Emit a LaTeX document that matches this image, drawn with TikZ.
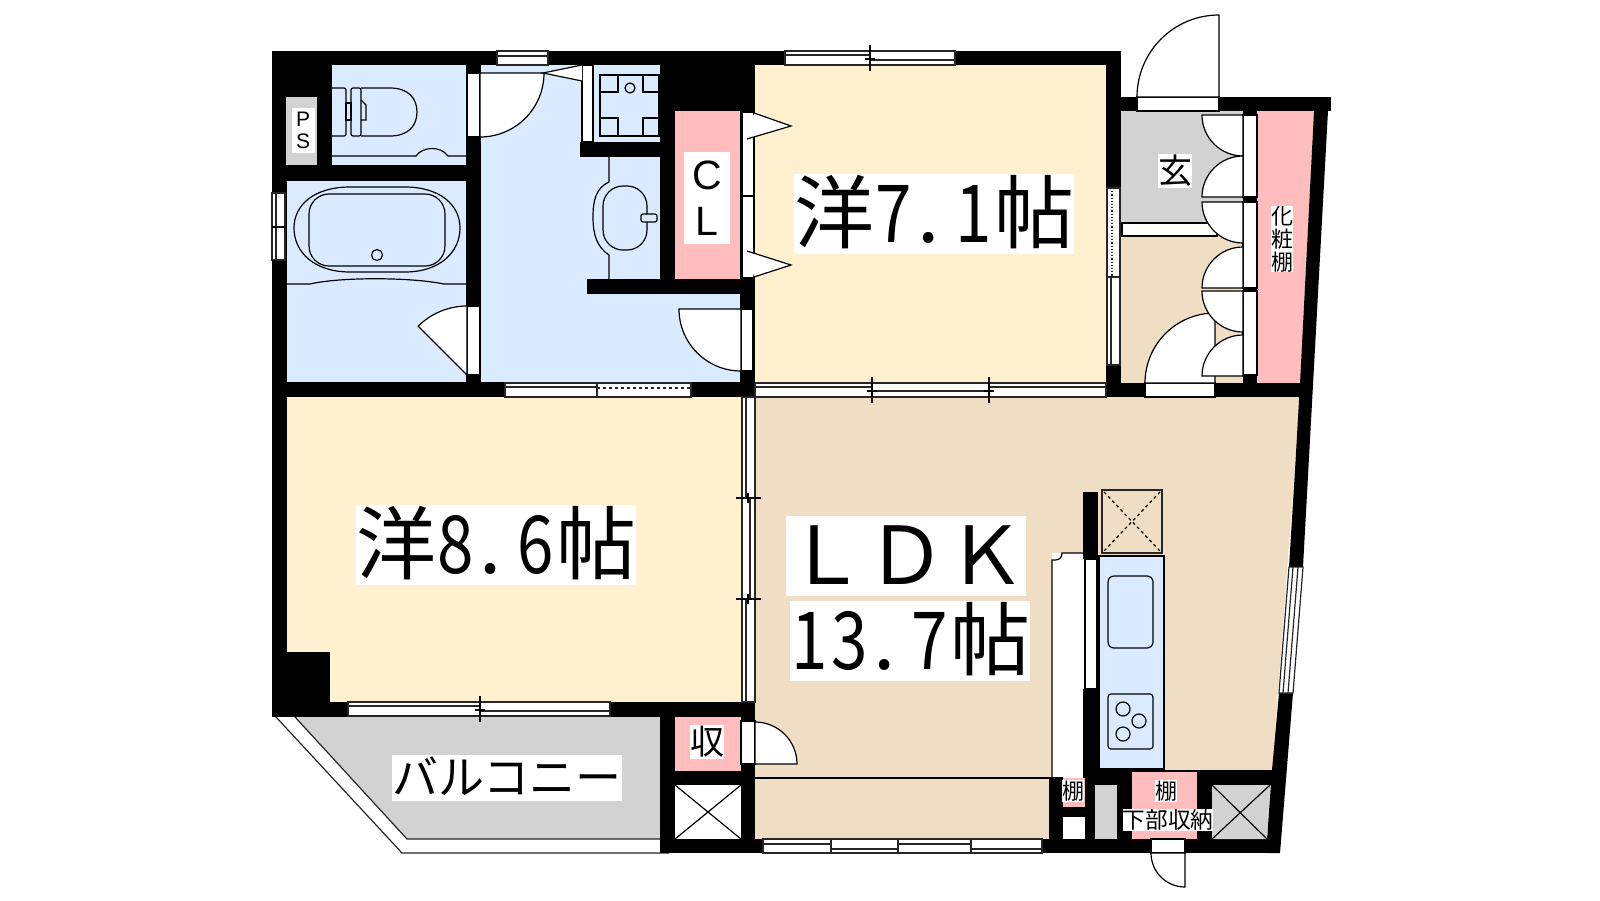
\documentclass[tikz,border=0pt]{standalone}
\usepackage{graphicx}
\usepackage{fontspec}
\setmainfont{Noto Sans CJK JP}
\newfontfamily\latinfont{Liberation Sans}
\usetikzlibrary{positioning}
\definecolor{wetblue}{HTML}{DAEBFF}
\definecolor{roomyellow}{HTML}{FFF0D0}
\definecolor{ldkbeige}{HTML}{EFDEC4}
\definecolor{shelfpink}{HTML}{FFBDBD}
\definecolor{floorgray}{HTML}{D2D2D2}
\tikzset{
x=1pt, y=-1pt,
wall/.style={fill=black},
fineline/.style={draw=black, line width=1.2pt},
winline/.style={draw=black!85, line width=1.2pt},
doorleaf/.style={fineline, fill=white},
roomlabel/.style={fill=white, inner sep=0pt, text height=68pt, text depth=12pt, font=\fontsize{80}{80}\selectfont},
tagbox/.style={fill=white, inner sep=0pt, align=center},
}
\newcommand{\dg}[1]{\makebox[40pt]{\scalebox{.82}[1]{#1}}}
\newcommand{\dt}{\makebox[40pt][l]{\hspace{3pt}.}}
% door leaf: hinge, radius, two angles
\newcommand{\swing}[5]{\draw[doorleaf] (#1,#2) -- ++(#4:#3) arc (#4:#5:#3) -- cycle;}
% window panes
\newcommand{\hpane}[4]{\draw[winline, fill=white] (#1,#2) rectangle (#3,#2+14); \draw[winline] (#1,#2+#4) -- (#3,#2+#4);}
\newcommand{\vpane}[4]{\draw[winline, fill=white] (#1,#2) rectangle (#1+13,#3); \draw[winline] (#1+#4,#2) -- (#1+#4,#3);}
\newcommand{\htick}[2]{\draw[fineline] (#1,#2-6) -- (#1,#2+20); \draw[fineline] (#1-5,#2+8) -- (#1+5,#2+8);}
\newcommand{\vtick}[2]{\draw[fineline] (#1-6,#2) -- (#1+19,#2); \draw[fineline] (#1+6,#2-5) -- (#1+6,#2+5);}
\begin{document}
\begin{tikzpicture}
    \useasboundingbox (0,0) rectangle (1600,900);

    % Rooms
    \fill[wetblue] (332,65) rectangle (466,165);
    \fill[wetblue] (287,181) rectangle (466,382);
    \fill[wetblue] (481,65) rectangle (741,382);
    \fill[roomyellow] (755,65) rectangle (1106,383);
    \fill[roomyellow] (286,397) rectangle (741,702);
    \fill[ldkbeige] (755,397) -- (1300,397) -- (1267,839) -- (755,839) -- cycle;
    \fill[floorgray] (1121,111) rectangle (1243,223);
    \fill[ldkbeige] (1121,223) rectangle (1243,383);
    \fill[floorgray] (295,717) -- (407,839) -- (660,839) -- (660,717) -- cycle;
    \fill[shelfpink] (1257,111) -- (1314,111) -- (1300,383) -- (1257,383) -- cycle;

    % Balcony edge
    \draw[winline] (295,717) -- (407,839) -- (660,839);
    \draw[winline] (276,717) -- (402,853) -- (669,853);

    % Fridge space
    \fill[white] (1052,553) rectangle (1084,778);
    \draw[fineline] (1083,553) -- (1062,553) .. controls (1062,558) and (1059,560) .. (1055,560) -- (1052,560) -- (1052,778);
    \draw[fineline] (755,778) -- (1052,778);

    % Walls
    \fill[wall] (272,51) rectangle (1121,65);
    \fill[wall] (272,51) rectangle (332,165);
    \fill[wall] (272,51) rectangle (287,717);
    \fill[wall] (272,165) rectangle (481,181);
    \fill[wall] (466,65) rectangle (481,382);
    \fill[wall] (272,382) rectangle (755,397);
    \fill[wall] (580,142) rectangle (660,157);
    \fill[wall] (660,51) rectangle (755,111);
    \fill[wall] (660,111) rectangle (675,294);
    \fill[wall] (587,279) rectangle (755,294);
    \fill[wall] (740,111) rectangle (755,397);
    \fill[wall] (286,652) rectangle (330,717);
    \fill[wall] (272,702) rectangle (755,717);
    \fill[wall] (741,702) rectangle (755,853);
    \fill[wall] (660,717) rectangle (675,853);
    \fill[wall] (675,771) rectangle (741,785);
    \fill[wall] (660,839) rectangle (1280,853);
    \fill[wall] (1106,51) rectangle (1121,397);
    \fill[wall] (1106,383) rectangle (1300,397);
    \fill[wall] (1121,97) rectangle (1331,111);
    \fill[wall] (1243,111) rectangle (1257,115);
    \fill[wall] (1243,197) rectangle (1257,202);
    \fill[wall] (1243,288) rectangle (1257,291);
    \fill[wall] (1243,375) rectangle (1257,383);
    \fill[wall] (1083,492) rectangle (1098,559);
    \fill[wall] (1083,689) rectangle (1098,785);
    \fill[wall] (1083,770) rectangle (1285,785);
    \fill[wall] (1049,777) rectangle (1063,853);
    \fill[wall] (1063,807) rectangle (1095,817);
    \fill[wall] (1085,770) rectangle (1095,853);
    \fill[wall] (1117,785) rectangle (1132,853);
    \fill[wall] (1197,785) rectangle (1212,853);
    \fill[wall] (1314,111) -- (1328,111) -- (1303,567) -- (1293,693) -- (1280,853) -- (1267,853)
        -- (1267,839) -- (1272,770) -- (1279,693) -- (1289,567) -- (1295,470) -- (1300,383) -- cycle;

    % Closets and pipe spaces
    \fill[floorgray] (286,97) rectangle (317,165);
    \fill[shelfpink] (675,111) rectangle (740,279);
    \fill[shelfpink] (675,717) rectangle (741,771);
    \fill[white] (675,785) rectangle (741,839);
    \draw[fineline] (675,785) -- (741,839) (741,785) -- (675,839);
    \fill[shelfpink] (1063,778) rectangle (1085,807);
    \fill[white] (1063,817) rectangle (1085,839);
    \fill[floorgray] (1095,785) rectangle (1117,839);
    \fill[shelfpink] (1132,772) rectangle (1197,839);
    \fill[floorgray] (1212,785) -- (1270,785) -- (1267,839) -- (1212,839) -- cycle;
    \draw[fineline] (1212,785) -- (1267,839) (1270,785) -- (1212,839);

    % Windows
    \hpane{497}{51}{548}{5}
    \hpane{785}{51}{870}{4}
    \hpane{870}{51}{955}{9}
    \htick{870}{51}
    \hpane{505}{383}{597}{4}
    \draw[winline, fill=white] (597,383) rectangle (691,397);
    \draw[winline, dashed] (597,388) -- (691,388);
    \hpane{755}{383}{872}{4}
    \hpane{872}{383}{989}{8}
    \hpane{989}{383}{1106}{4}
    \htick{872}{383}
    \htick{989}{383}
    \hpane{348}{702}{480}{4}
    \hpane{480}{702}{610}{9}
    \htick{480}{702}
    \hpane{763}{839}{831}{5}
    \hpane{831}{839}{898}{10}
    \hpane{898}{839}{971}{5}
    \hpane{971}{839}{1042}{10}
    \vpane{742}{397}{498}{4}
    \vpane{742}{498}{599}{8}
    \vpane{742}{599}{702}{4}
    \vtick{742}{498}
    \vtick{742}{599}
    \vpane{272}{193}{260}{4}
    \draw[fineline] (272,227) -- (285,227);
    \draw[winline, fill=white] (1107,188) rectangle (1120,277);
    \draw[winline, dotted, line width=2pt] (1112,188) -- (1112,277);
    \vpane{1107}{277}{365}{4}
    \draw[winline, fill=white] (1303,567) -- (1293,693) -- (1279,693) -- (1289,567) -- cycle;
    \draw[winline] (1293,567) -- (1283,693) (1298,567) -- (1288,693);

    % Door frames
    \draw[fineline, fill=white] (467,73) rectangle (480,137);
    \draw[fineline, fill=white] (467,306) rectangle (480,375);
    \draw[fineline, fill=white] (742,112) rectangle (754,196);
    \draw[fineline, fill=white] (742,196) rectangle (754,278);
    \draw[fineline, fill=white] (741,309) rectangle (753,371);
    \draw[fineline, fill=white] (741,721) rectangle (755,764);
    \draw[fineline, fill=white] (1137,97) rectangle (1219,111);
    \draw[fineline, fill=white] (1145,383) rectangle (1215,397);
    \draw[fineline, fill=white] (1151,839) rectangle (1185,853);
    \draw[fineline, fill=white] (582,65) rectangle (593,142);
    \draw[fineline, fill=white] (1122,223) rectangle (1217,236);
    \draw[fineline, fill=white] (1243,115) rectangle (1257,197);
    \draw[fineline, fill=white] (1243,202) rectangle (1257,288);
    \draw[fineline, fill=white] (1243,291) rectangle (1257,375);

    % Door leaves
    \swing{480}{73}{64}{0}{90}
    \swing{467}{375}{69}{225}{270}
    \swing{741}{309}{62}{180}{90}
    \swing{1219}{97}{82}{180}{270}
    \swing{1215}{383}{70}{180}{270}
    \swing{755}{764}{42}{360}{270}
    \swing{1185}{853}{34}{180}{90}
    \draw[doorleaf] (754,113) -- (791,126) -- (747,139);
    \draw[doorleaf] (754,277) -- (791,265) -- (747,251);
    \draw[doorleaf] (582,65) -- (543,73) -- (582,81);

    % Closet doors
    \swing{1243}{115}{41}{180}{90}
    \swing{1243}{197}{41}{180}{270}
    \swing{1243}{202}{41}{180}{90}
    \swing{1243}{288}{41}{180}{270}
    \swing{1243}{291}{41}{180}{90}
    \swing{1243}{376}{41}{180}{270}

    % Toilet
    \draw[fineline, rounded corners=2pt] (332,88) -- (346,88) -- (346,136) -- (332,136);
    \draw[fineline] (346,103) rectangle (351,120);
    \draw[fineline, rounded corners=2pt] (351,88) rectangle (361,136);
    \draw[fineline] (361,88) -- (390,88) .. controls (408,88) and (417,98) .. (417,112) .. controls (417,126) and (408,136) .. (390,136) -- (361,136);
    \draw[fineline] (361,100) -- (366,105) -- (366,120) -- (361,120);
    \draw[fineline] (332,156) -- (416,156) .. controls (422,147) and (440,145) .. (448,156) -- (466,156);

    % Washer pan
    \draw[fineline] (600,75) rectangle (659,136);
    \draw[fineline] (600,75) rectangle (618,92);
    \draw[fineline] (643,75) rectangle (659,92);
    \draw[fineline] (600,118) rectangle (618,136);
    \draw[fineline] (643,118) rectangle (659,136);
    \draw[fineline] (630,88) circle (5);

    % Bath
    \draw[fineline] (350,187) -- (405,187) .. controls (440,187) and (460,205) .. (460,228) .. controls (460,252) and (440,272) .. (405,272)
        -- (350,272) .. controls (314,272) and (294,252) .. (294,228) .. controls (294,205) and (314,187) .. (350,187) -- cycle;
    \draw[fineline, rounded corners=20pt] (309,194) rectangle (445,266);
    \draw[fineline] (377,255) circle (5.5);
    \draw[fineline] (287,284) -- (310,284) .. controls (340,277) and (410,277) .. (444,284) -- (466,284);

    % Wash basin
    \draw[fineline] (609,157) -- (609,182) .. controls (596,188) and (593,200) .. (593,217) .. controls (593,235) and (597,247) .. (609,255) -- (609,279);
    \draw[fineline, rounded corners=20pt] (603,186) rectangle (647,250);
    \draw[fineline, fill=wetblue, rounded corners=2pt] (641,214) rectangle (657,222);

    % Kitchen
    \draw[fineline, fill=wetblue] (1099,556) rectangle (1164,769);
    \draw[fineline, rounded corners=6pt] (1108,576) rectangle (1153,648);
    \draw[fineline, rounded corners=3pt] (1108,694) rectangle (1153,749);
    \draw[fineline] (1123,709) circle (7);
    \draw[fineline] (1139,721) circle (7);
    \draw[fineline] (1123,734) circle (7);
    \draw[fineline, fill=white] (1085,559) rectangle (1097,689);
    \draw[winline, line width=1.6pt] (1102,490) rectangle (1162,553);
    \draw[fineline, dashed] (1104,492) -- (1160,551) (1160,492) -- (1104,551);

    % Labels
    \node[roomlabel] (room71) at (934,214) {洋\dg{7}\dt\dg{1}帖};
    \node[roomlabel] (room86) at (496,545) {洋\dg{8}\dt\dg{6}帖};
    \node[roomlabel] (ldkname) at (906,556) {ＬＤＫ};
    \node[roomlabel] (ldksize) at (910,641) {\dg{1}\dg{3}\dt\dg{7}帖};
    \node[tagbox, font=\fontsize{46}{46}\selectfont, text height=39pt, text depth=7pt] (balcony) at (507,778) {バルコニー};
    \node[tagbox, font=\latinfont\fontsize{41}{46}\selectfont, minimum width=46pt, minimum height=92pt] (closet) at (707,198) {C\\L};
    \node[tagbox, font=\latinfont\fontsize{21}{22}\selectfont, minimum width=23pt, minimum height=45pt] (pipe) at (303,130) {P\\S};
    \node[tagbox, font=\fontsize{34}{34}\selectfont, text height=29pt, text depth=5pt] (entry) at (1175,171) {玄};
    \node[tagbox, font=\fontsize{22}{23}\selectfont] (vanity) at (1282,239) {化\\粧\\棚};
    \node[tagbox, font=\fontsize{34}{34}\selectfont, text height=29pt, text depth=5pt] (storage) at (707,742) {収};
    \node[tagbox, font=\fontsize{22}{22}\selectfont, text height=19pt, text depth=3pt] (shelfa) at (1073,791) {棚};
    \node[tagbox, font=\fontsize{22}{22}\selectfont, text height=19pt, text depth=3pt] (shelfb) at (1166,791) {棚};
    \node[tagbox, font=\fontsize{22.7}{22.7}\selectfont, text height=19pt, text depth=3pt] (under) at (1168,820) {下部収納};
\end{tikzpicture}
\end{document}
